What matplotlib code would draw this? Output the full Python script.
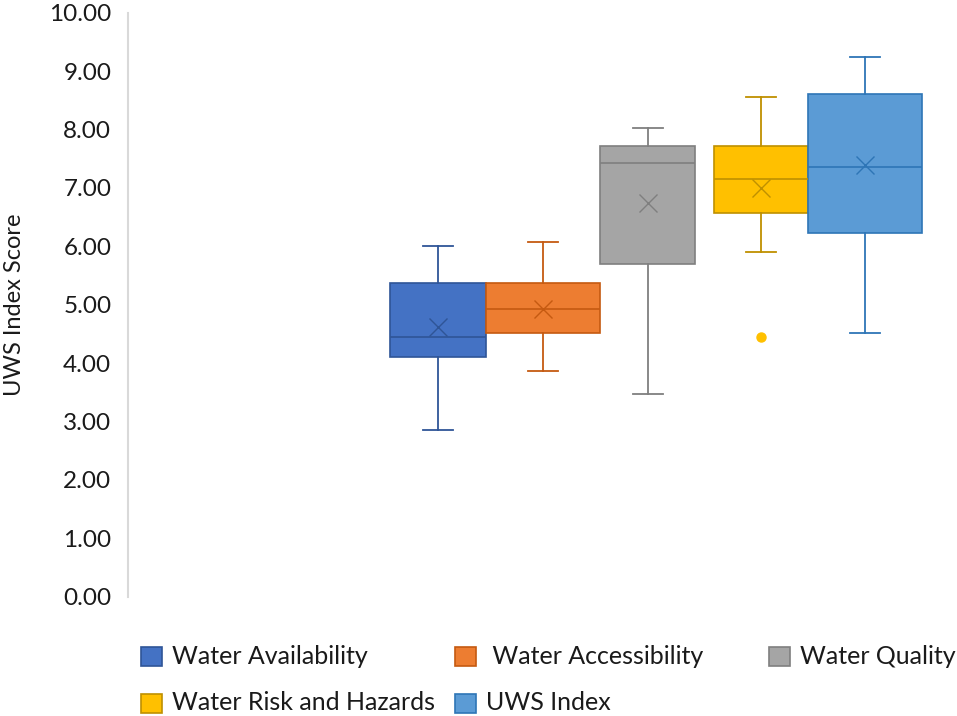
import matplotlib.pyplot as plt
from matplotlib.patches import Rectangle

# series names and box statistics
series = ["Water Availability", " Water Accessibility", "Water Quality",
          "Water Risk and Hazards", "UWS Index"]
whisker_low = [2.85, 3.87, 3.47, 5.90, 4.51]
q1 = [4.10, 4.51, 5.70, 6.57, 6.23]
median = [4.45, 4.92, 7.42, 7.15, 7.35]
q3 = [5.37, 5.37, 7.72, 7.72, 8.61]
whisker_high = [6.00, 6.07, 8.02, 8.56, 9.25]
mean = [4.61, 4.93, 6.74, 6.99, 7.39]
outliers = [[], [], [], [4.45], []]

fills = ["#4472C4", "#ED7D31", "#A5A5A5", "#FFC000", "#5B9BD5"]
edges = ["#2F5597", "#C55A11", "#7F7F7F", "#BF9000", "#2E75B6"]

# layout in pixel-like units across the plot area
positions = [438, 543, 647.5, 761, 865]
widths = [96, 114, 95, 94, 114]

plt.rcParams['font.family'] = ['Lato', 'DejaVu Sans']

fig = plt.figure(figsize=(9.57, 7.16), dpi=100)
ax = fig.add_axes([128 / 957, 119.3 / 716, (950 - 128) / 957, 584 / 716])

stats = []
for i in range(len(series)):
    stats.append(dict(whislo=whisker_low[i], q1=q1[i], med=median[i], q3=q3[i],
                      whishi=whisker_high[i], mean=mean[i], fliers=outliers[i]))

bp = ax.bxp(stats, positions=positions, widths=widths, capwidths=[30] * 5,
            patch_artist=True, showmeans=True, manage_ticks=False)

for i in range(len(series)):
    box = bp['boxes'][i]
    box.set_facecolor(fills[i])
    box.set_edgecolor(edges[i])
    box.set_linewidth(1.2)
    bp['medians'][i].set_color(edges[i])
    bp['medians'][i].set_linewidth(1.2)
    for w in bp['whiskers'][2 * i:2 * i + 2]:
        w.set_color(edges[i])
        w.set_linewidth(1.3)
    for c in bp['caps'][2 * i:2 * i + 2]:
        c.set_color(edges[i])
        c.set_linewidth(1.3)
    m = bp['means'][i]
    m.set_marker('x')
    m.set_markersize(13)
    m.set_markeredgecolor(edges[i])
    m.set_markeredgewidth(1.0)
    f = bp['fliers'][i]
    f.set_marker('o')
    f.set_markerfacecolor(fills[i])
    f.set_markeredgecolor(fills[i])
    f.set_markersize(6.5)

ax.set_xlim(128, 950)
ax.set_ylim(0, 10)
ax.set_yticks(range(0, 11))
ax.set_yticklabels([f"{v:.2f}" for v in range(0, 11)])
ax.set_xticks([])
for s in ['top', 'right', 'bottom']:
    ax.spines[s].set_visible(False)
ax.spines['left'].set_color('#D9D9D9')
ax.spines['left'].set_linewidth(1.5)
ax.tick_params(axis='y', length=0, pad=12, labelsize=17.5, labelcolor='#1a1a1a')
ax.set_ylabel("UWS Index Score", fontsize=17, color='#1a1a1a')
ax.yaxis.set_label_coords((25 - 128) / 822, 0.5)

# legend drawn in figure pixels, three columns
col_x = [141, 455, 769]
row_y = [656, 703]
for i, name in enumerate(series):
    cx = col_x[i % 3]
    cy = row_y[i // 3]
    fig.patches.append(Rectangle((cx / 957, (716 - cy - 9.5) / 716), 21 / 957, 19 / 716,
                                 transform=fig.transFigure, facecolor=fills[i],
                                 edgecolor=edges[i], linewidth=1.2))
    fig.text((cx + 31) / 957, (716 - cy) / 716, name, fontsize=18, color='#1a1a1a',
             va='center', ha='left')

fig.savefig("out.png", dpi=100)
